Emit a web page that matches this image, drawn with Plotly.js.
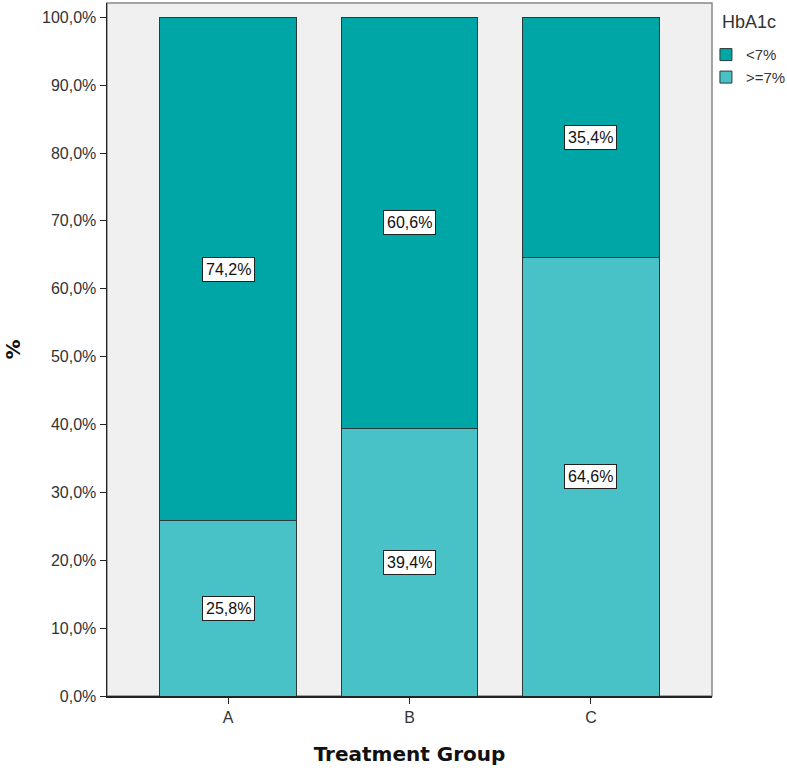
<!DOCTYPE html>
<html><head><meta charset="utf-8">
<script src="https://cdn.plot.ly/plotly-3.0.1.min.js"></script>
<style>body{margin:0;background:#fff}#c{width:787px;height:770px}</style>
</head><body><div id="c"></div>
<script>
const groups = ["A", "B", "C"];
const lowHbA1c = [74.2, 60.6, 35.4];   // <7%
const highHbA1c = [25.8, 39.4, 64.6];  // >=7%
const seriesNames = ["<7%", ">=7%"];
const legendTitle = "HbA1c";
const yTicks = [0,10,20,30,40,50,60,70,80,90,100];

const fmt = v => v.toFixed(1).replace('.', ',') + '%';
const F = 'Arial, Liberation Sans, sans-serif';

const traces = [
  {type:'bar', x:groups, y:highHbA1c, name:seriesNames[1],
   marker:{color:'#48C2C6', line:{color:'#2b3b3b', width:1}}, legendrank:2, hoverinfo:'none'},
  {type:'bar', x:groups, y:lowHbA1c, name:seriesNames[0],
   marker:{color:'#00A6A6', line:{color:'#2b3b3b', width:1}}, legendrank:1, hoverinfo:'none'}
];

const annotations = [];
groups.forEach((g,i)=>{
  const base = {xref:'x', yref:'y', showarrow:false, bgcolor:'#ffffff', bordercolor:'#222',
    borderwidth:1, borderpad:3, font:{family:F, size:16, color:'#111'}};
  annotations.push(Object.assign({}, base, {x:g, y:highHbA1c[i]/2, text:fmt(highHbA1c[i])}));
  annotations.push(Object.assign({}, base, {x:g, y:highHbA1c[i]+lowHbA1c[i]/2, text:fmt(lowHbA1c[i])}));
});
annotations.push({xref:'paper', yref:'paper', x:1.014, y:0.99, xanchor:'left', yanchor:'top',
  text:legendTitle, showarrow:false, font:{family:F, size:18, color:'#333'}});

const layout = {
  width:787, height:770,
  margin:{l:107, r:75, t:3, b:74, autoexpand:false},
  paper_bgcolor:'#ffffff', plot_bgcolor:'#F0F0F0',
  barmode:'stack', bargap:0.25,
  font:{family:F, size:16, color:'#333'},
  xaxis:{type:'category', range:[-0.667, 2.667], showline:true, linecolor:'#222', linewidth:1.5,
    ticks:'outside', ticklen:6, tickcolor:'#222', showgrid:false, zeroline:false,
    tickfont:{size:16, color:'#333'},
    title:{text:'Treatment Group', font:{size:20, color:'#111', family:'DejaVu Sans', weight:'bold'}, standoff:22}},
  yaxis:{range:[0, 102.1], tickvals:yTicks, ticktext:yTicks.map(v=>v.toFixed(1).replace('.',',')+'%'),
    showline:true, linecolor:'#222', linewidth:1.5, ticks:'outside', ticklen:6, tickcolor:'#222',
    showgrid:false, zeroline:false, tickfont:{size:16, color:'#333'},
    title:{text:'%', font:{size:20, color:'#111', family:'DejaVu Sans', weight:'bold'}, standoff:16}},
  legend:{x:0.990, y:0.949, xanchor:'left', yanchor:'top', traceorder:'normal',
    font:{size:15, color:'#333'}, itemwidth:30, tracegroupgap:0, bgcolor:'rgba(0,0,0,0)'},
  shapes:[{type:'rect', xref:'paper', yref:'paper', x0:0, x1:1, y0:0, y1:1, line:{color:'#888', width:1.5}, layer:'below'}],
  annotations:annotations
};

Plotly.newPlot('c', traces, layout, {displayModeBar:false, staticPlot:true});
</script></body></html>
